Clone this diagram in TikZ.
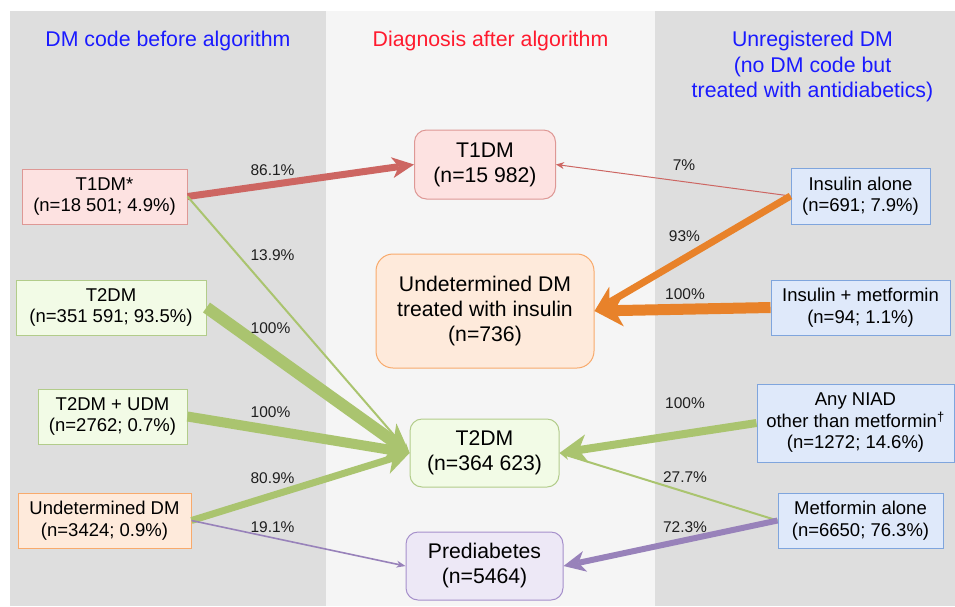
\documentclass[tikz,border=0pt]{standalone}
\usepackage{fontspec}
\setmainfont{Liberation Sans}
\usetikzlibrary{arrows.meta}
\definecolor{panelgray}{HTML}{DEDEDE}
\definecolor{panelmid}{HTML}{F5F5F5}
\definecolor{tblue}{HTML}{1A1AFF}
\definecolor{tred}{HTML}{FF1A2E}
\definecolor{pinkfill}{HTML}{FDE2E1}
\definecolor{pinkdraw}{HTML}{DE9895}
\definecolor{greenfill}{HTML}{F2FBE6}
\definecolor{greendraw}{HTML}{B2CC8A}
\definecolor{orangefill}{HTML}{FEEADB}
\definecolor{orangedraw}{HTML}{F8AA6C}
\definecolor{purplefill}{HTML}{EDE8F6}
\definecolor{purpledraw}{HTML}{A690CB}
\definecolor{bluefill}{HTML}{DFE9FA}
\definecolor{bluedraw}{HTML}{7FA5DD}
\definecolor{redarrow}{HTML}{CD6662}
\definecolor{greenarrow}{HTML}{AAC46F}
\definecolor{orangearrow}{HTML}{E8822A}
\definecolor{purplearrow}{HTML}{9882BA}
\begin{document}
\begin{tikzpicture}[x=1pt,y=-1pt,
  box/.style={draw, line width=1pt, inner sep=0pt, align=center,
    font=\fontsize{18.5}{21.5}\selectfont},
  mbox/.style={box, rounded corners=12pt, font=\fontsize{21.2}{25}\selectfont},
  pinkbox/.style={fill=pinkfill, draw=pinkdraw},
  greenbox/.style={fill=greenfill, draw=greendraw},
  orangebox/.style={fill=orangefill, draw=orangedraw},
  purplebox/.style={fill=purplefill, draw=purpledraw},
  bluebox/.style={fill=bluefill, draw=bluedraw},
  title/.style={inner sep=0pt, align=center, font=\fontsize{21.3}{25.5}\selectfont},
  lab/.style={inner sep=0pt, font=\fontsize{15.5}{18}\selectfont, text=black!88},
  arr/.style n args={3}{line width=#1pt,
    arrows={-{Stealth[length=#2pt,width=#3pt,inset=#2pt*0.3,line width=0pt]}}}
]
\useasboundingbox (0,0) rectangle (955,606);
% panels
\fill[panelgray] (10,11) rectangle (326,606);
\fill[panelmid] (326,11) rectangle (655,606);
\fill[panelgray] (655,11) rectangle (955,606);

% titles
\node[title, text=tblue] (tl) at (168,41) {DM code before algorithm};
\node[title, text=tred] (tm) at (490.5,41) {Diagnosis after algorithm};
\node[title, text=tblue] (tr) at (812.5,66.5) {Unregistered DM\\(no DM code but\\treated with antidiabetics)};

% left column
\node[box, pinkbox, minimum width=165pt, minimum height=55pt] (t1l) at (104.5,196.5) {T1DM*\\(n=18 501; 4.9\%)};
\node[box, greenbox, minimum width=190pt, minimum height=55pt] (t2l) at (111,307.5) {T2DM\\(n=351 591; 93.5\%)};
\node[box, greenbox, minimum width=149pt, minimum height=55pt] (udml) at (112.5,416.5) {T2DM + UDM\\(n=2762; 0.7\%)};
\node[box, orangebox, minimum width=173pt, minimum height=55pt] (undl) at (104.5,520.5) {Undetermined DM\\(n=3424; 0.9\%)};

% middle column
\node[mbox, pinkbox, minimum width=141pt, minimum height=69pt] (t1m) at (485,164.5) {T1DM\\(n=15 982)};
\node[mbox, orangebox, rounded corners=17pt, minimum width=218pt, minimum height=114pt] (undm) at (485,311) {Undetermined DM\\treated with insulin\\(n=736)};
\node[mbox, greenbox, minimum width=149pt, minimum height=68pt] (t2m) at (484.5,453) {T2DM\\(n=364 623)};
\node[mbox, purplebox, minimum width=157pt, minimum height=68pt] (prem) at (484.5,566) {Prediabetes\\(n=5464)};

% right column
\node[box, bluebox, minimum width=139pt, minimum height=56pt] (insr) at (860.5,196) {Insulin alone\\(n=691; 7.9\%)};
\node[box, bluebox, minimum width=179pt, minimum height=55pt] (imr) at (860.5,307.5) {Insulin + metformin\\(n=94; 1.1\%)};
\node[box, bluebox, minimum width=197pt, minimum height=78pt] (niadr) at (855.5,423) {Any NIAD\\other than metformin\textsuperscript{†}\\(n=1272; 14.6\%)};
\node[box, bluebox, minimum width=165pt, minimum height=55pt] (metr) at (860.5,520.5) {Metformin alone\\(n=6650; 76.3\%)};

% connectors, left side
\draw[redarrow, arr={7}{22}{21}] (t1l.east) -- (t1m.west);
\draw[greenarrow, arr={2}{10}{8}] (t1l.east) -- (t2m.west);
\draw[greenarrow, arr={12}{28}{33}] (t2l.east) -- (t2m.west);
\draw[greenarrow, arr={10}{27}{31}] (udml.east) -- (t2m.west);
\draw[greenarrow, arr={7}{25}{28}] (undl.east) -- (t2m.west);
\draw[purplearrow, arr={1.6}{9}{7}] (undl.east) -- (prem.west);

% connectors, right side
\draw[redarrow, arr={1}{8}{7}] (insr.west) -- (t1m.east);
\draw[orangearrow, arr={7}{25}{27}] (insr.west) -- (undm.east);
\draw[orangearrow, arr={11}{29}{32}] (imr.west) -- (undm.east);
\draw[greenarrow, arr={8}{28}{29}] (niadr.west) -- (t2m.east);
\draw[greenarrow, arr={2}{10}{8}] (metr.west) -- (t2m.east);
\draw[purplearrow, arr={6}{22}{21}] (metr.west) -- (prem.east);

% labels
\node[lab] (l1) at (272.5,170) {86.1\%};
\node[lab] (l2) at (272.5,255) {13.9\%};
\node[lab] (l3) at (270.5,328) {100\%};
\node[lab] (l4) at (270.5,412) {100\%};
\node[lab] (l5) at (272.5,478) {80.9\%};
\node[lab] (l6) at (272.5,527) {19.1\%};
\node[lab] (r1) at (684,165.5) {7\%};
\node[lab] (r2) at (684.5,236.5) {93\%};
\node[lab] (r3) at (685,294) {100\%};
\node[lab] (r4) at (685,403) {100\%};
\node[lab] (r5) at (685,477) {27.7\%};
\node[lab] (r6) at (685,527) {72.3\%};
\end{tikzpicture}
\end{document}
